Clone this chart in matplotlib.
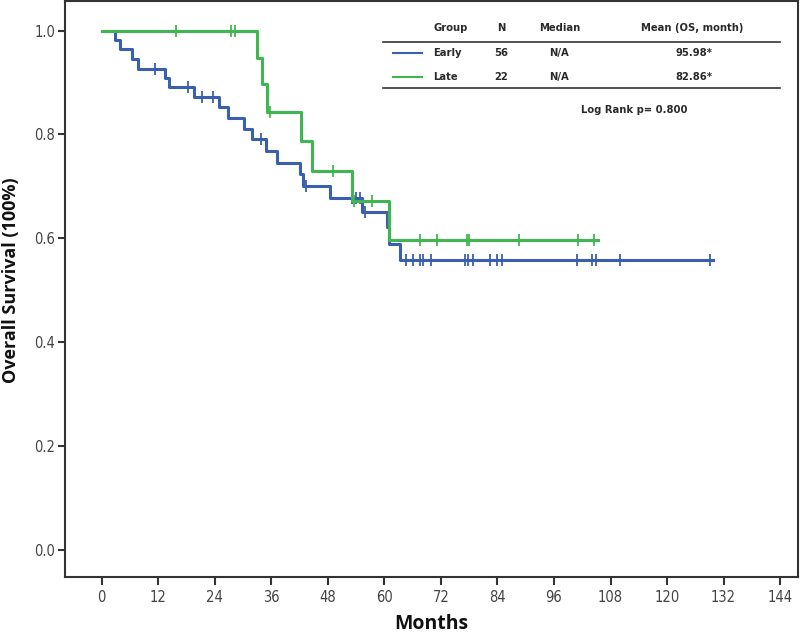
import numpy as np
import matplotlib
matplotlib.use('Agg')
import matplotlib.pyplot as plt
from matplotlib.lines import Line2D

# Kaplan-Meier steps (time in months, survival after the step)
early_t = [0, 2.9, 3.8, 6.4, 7.6, 13.4, 14.2, 19.5, 24.8, 26.7, 30.2, 31.9, 34.8, 37.3,
           42.1, 42.8, 48.5, 55.2, 60.6, 61.0, 63.3, 129.8]
early_s = [1.0, 0.982, 0.964, 0.946, 0.927, 0.909, 0.891, 0.872, 0.852, 0.831, 0.811, 0.791,
           0.768, 0.746, 0.724, 0.701, 0.678, 0.651, 0.621, 0.590, 0.558, 0.558]
early_cens = [11.3, 18.4, 21.2, 23.7, 33.8, 43.3, 53.1, 54.0, 54.8, 55.9, 64.6, 66.0, 67.6,
              68.3, 70.0, 77.1, 77.8, 78.9, 82.4, 84.0, 84.9, 100.8, 104.0, 105.0, 110.0, 129.1]

late_t = [0, 32.9, 34.0, 35.0, 42.4, 44.6, 53.1, 60.9, 105.4]
late_s = [1.0, 0.948, 0.897, 0.844, 0.788, 0.730, 0.672, 0.596, 0.596]
late_cens = [15.7, 27.4, 28.2, 35.7, 49.1, 53.6, 57.3, 67.6, 71.1, 77.5, 78.0, 88.5, 101.2, 104.5]

groups = ['Early', 'Late']
n_vals = ['56', '22']
medians = ['N/A', 'N/A']
means = ['95.98*', '82.86*']
p_text = 'Log Rank p= 0.800'

xticks = list(range(0, 145, 12))
yticks = [0.0, 0.2, 0.4, 0.6, 0.8, 1.0]

blue = '#3a5fae'
green = '#3fb650'
dark = '#333333'
label_font = ['Open Sans', 'DejaVu Sans']


def surv_at(times, surv, pts):
    idx = np.searchsorted(times, pts, side='right') - 1
    return np.array(surv)[idx]


fig = plt.figure(figsize=(8, 6.33), dpi=100)
ax = fig.add_axes([65 / 800, 1 - 577 / 633, (798 - 65) / 800, 577 / 633 - 0.002])

ax.step(early_t, early_s, where='post', color=blue, lw=2.2, zorder=3)
ax.plot(early_cens, surv_at(early_t, early_s, early_cens), ls='none', marker='|',
        ms=8, mew=1.3, color=blue, zorder=3)
ax.step(late_t, late_s, where='post', color=green, lw=2.2, zorder=4)
ax.plot(late_cens, surv_at(late_t, late_s, late_cens), ls='none', marker='|',
        ms=8, mew=1.3, color=green, zorder=4)

ax.set_xlim(-7.8, 147.8)
ax.set_ylim(-0.052, 1.0565)
ax.set_xticks(xticks)
ax.set_yticks(yticks)
ax.set_yticklabels(['%.1f' % v for v in yticks])
for s in ax.spines.values():
    s.set_color(dark)
    s.set_linewidth(1.5)
ax.tick_params(axis='x', direction='out', length=6, width=1.5, colors=dark, pad=3, labelsize=10.5)
ax.tick_params(axis='y', direction='out', length=5, width=1.5, colors=dark, pad=2, labelsize=10.5)
for lab in ax.get_xticklabels() + ax.get_yticklabels():
    lab.set_family('DejaVu Sans')
    lab.set_stretch('condensed')
    lab.set_color('#444444')

fig.text(11.5 / 800, 1 - 280 / 633, 'Overall Survival (100%)', rotation=90, ha='center',
         va='center', fontsize=13, fontweight='bold', family=label_font, color='#111111')
fig.text(431 / 800, 1 - 624 / 633, 'Months', ha='center', va='center', fontsize=14,
         fontweight='bold', family=label_font, color='#111111')


# legend table
def fx(x):
    return x / 800


def fy(y):
    return 1 - y / 633


tkw = dict(fontsize=8, fontweight='bold', family='DejaVu Sans', stretch='condensed',
           color='#2a2a2a', va='center')
fig.text(fx(433), fy(28), 'Group', ha='left', **tkw)
fig.text(fx(501.5), fy(28), 'N', ha='center', **tkw)
fig.text(fx(559.5), fy(28), 'Median', ha='center', **tkw)
fig.text(fx(692.5), fy(28), 'Mean (OS, month)', ha='center', **tkw)
fig.add_artist(Line2D([fx(383), fx(780)], [fy(41.7), fy(41.7)], color=dark, lw=1.2))
fig.add_artist(Line2D([fx(383), fx(780)], [fy(88.3), fy(88.3)], color=dark, lw=1.2))
row_y = [53.3, 76.7]
for i, col in enumerate([blue, green]):
    fig.add_artist(Line2D([fx(393), fx(422)], [fy(row_y[i]), fy(row_y[i])], color=col, lw=1.5))
    fig.text(fx(433), fy(row_y[i]), groups[i], ha='left', **tkw)
    fig.text(fx(501.5), fy(row_y[i]), n_vals[i], ha='center', **tkw)
    fig.text(fx(559.5), fy(row_y[i]), medians[i], ha='center', **tkw)
    fig.text(fx(694), fy(row_y[i]), means[i], ha='center', **tkw)
fig.text(fx(634), fy(110), p_text, ha='center', **tkw)

fig.savefig('out.png', dpi=100)
